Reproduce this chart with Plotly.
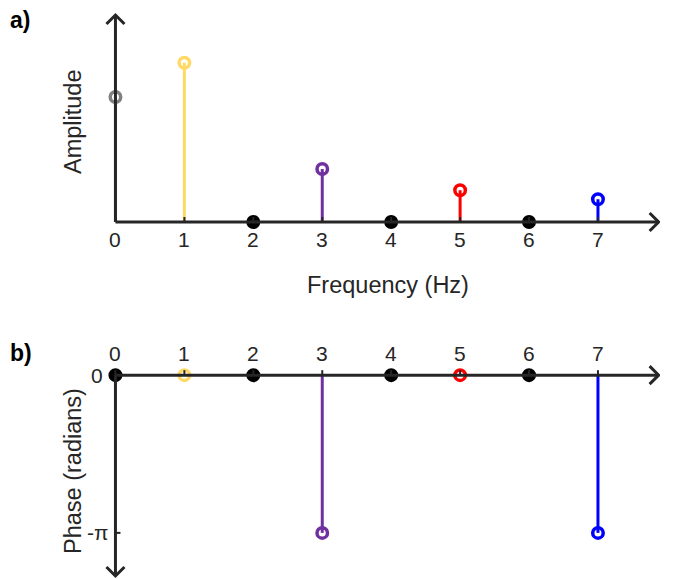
import numpy as np
import plotly.graph_objects as go

# ---------------- data ----------------
freqs = [0, 1, 2, 3, 4, 5, 6, 7]
amplitudes = [0.5, 0.637, 0.0, 0.212, 0.0, 0.127, 0.0, 0.091]
phases = [0.0, 0.0, 0.0, -np.pi, 0.0, 0.0, 0.0, -np.pi]
amp_colors = ["#808080", "#FFD966", "#000000", "#7030A0", "#000000", "#FF0000", "#000000", "#0000FF"]
phase_colors = ["#000000", "#FFD966", "#000000", "#7030A0", "#000000", "#FF0000", "#000000", "#0000FF"]
tick_labels = ["0", "1", "2", "3", "4", "5", "6", "7"]
phase_ticks = [0.0, -np.pi]
phase_tick_labels = ["0", "-π"]

# ---------------- layout geometry ----------------
W, H = 673, 579
PL, PR = 81, 660
xr = [-0.5, 7.9]
sx = (PR - PL) / (xr[1] - xr[0])

top_px = (10, 240)
bot_px = (340, 579)
yr1 = [-0.072, 0.848]
yr2 = [-4.06, 0.70]
sy1 = (top_px[1] - top_px[0]) / (yr1[1] - yr1[0])
sy2 = (bot_px[1] - bot_px[0]) / (yr2[1] - yr2[0])

AX = "#262626"
FONT = "Arial, Liberation Sans, Helvetica, sans-serif"
TXT = "#262626"

fig = go.Figure()


def add_panel(xa, ya, values, cols, sy, x_tip, y_tip):
    for f, v, c in zip(freqs, values, cols):
        fig.add_trace(go.Scatter(x=[f, f], y=[0, v], mode="lines",
                                 line=dict(color=c, width=3),
                                 xaxis=xa, yaxis=ya, showlegend=False, hoverinfo="skip"))
    symbols = ["circle" if c == "#000000" else "circle-open" for c in cols]
    fig.add_trace(go.Scatter(x=freqs, y=values, mode="markers",
                             marker=dict(symbol=symbols, size=10.5, color=cols,
                                         line=dict(width=3.5, color=cols)),
                             xaxis=xa, yaxis=ya, showlegend=False))
    fig.add_trace(go.Scatter(x=[0, x_tip], y=[0, 0], mode="lines",
                             line=dict(color=AX, width=3),
                             xaxis=xa, yaxis=ya, showlegend=False, hoverinfo="skip"))
    fig.add_trace(go.Scatter(x=[0, 0], y=[0, y_tip], mode="lines",
                             line=dict(color=AX, width=3),
                             xaxis=xa, yaxis=ya, showlegend=False, hoverinfo="skip"))
    a = 9.0
    dxu, dyu = a / sx, a / sy
    fig.add_trace(go.Scatter(x=[x_tip - dxu, x_tip, x_tip - dxu], y=[dyu, 0, -dyu], mode="lines",
                             line=dict(color=AX, width=3),
                             xaxis=xa, yaxis=ya, showlegend=False, hoverinfo="skip"))
    sgn = 1 if y_tip > 0 else -1
    fig.add_trace(go.Scatter(x=[-dxu, 0, dxu], y=[y_tip - sgn * dyu, y_tip, y_tip - sgn * dyu], mode="lines",
                             line=dict(color=AX, width=3),
                             xaxis=xa, yaxis=ya, showlegend=False, hoverinfo="skip"))
    t = 5.0 / sy
    for f in freqs:
        fig.add_trace(go.Scatter(x=[f, f], y=[0, t], mode="lines",
                                 line=dict(color=AX, width=2),
                                 xaxis=xa, yaxis=ya, showlegend=False, hoverinfo="skip"))


add_panel("x", "y", amplitudes, amp_colors, sy1, 7.88, 0.828)
add_panel("x2", "y2", phases, phase_colors, sy2, 7.88, -4.0)

fig.add_trace(go.Scatter(x=[0, 5.0 / sx], y=[-np.pi, -np.pi], mode="lines",
                         line=dict(color=AX, width=2), xaxis="x2", yaxis="y2",
                         showlegend=False, hoverinfo="skip"))

TS = 21
ann = []
for f, lab in zip(freqs, tick_labels):
    ann.append(dict(x=f, y=0, xref="x", yref="y", text=lab, showarrow=False,
                    yanchor="top", yshift=-4, font=dict(size=TS, color=TXT, family=FONT)))
    ann.append(dict(x=f, y=0, xref="x2", yref="y2", text=lab, showarrow=False,
                    yanchor="bottom", yshift=8, font=dict(size=TS, color=TXT, family=FONT)))
for v, lab in zip(phase_ticks, phase_tick_labels):
    ann.append(dict(x=0, y=v, xref="x2", yref="y2", text=lab, showarrow=False,
                    xanchor="right", xshift=-10 if v == 0 else -5,
                    font=dict(size=TS, color=TXT, family=FONT)))

ann += [
    dict(x=388 / W, y=1 - 285 / H, xref="paper", yref="paper", text="Frequency (Hz)",
         xanchor="center", yanchor="middle",
         showarrow=False, font=dict(size=23.5, color=TXT, family=FONT)),
    dict(x=73 / W, y=1 - 122 / H, xref="paper", yref="paper", text="Amplitude", textangle=-90,
         xanchor="center", yanchor="middle",
         showarrow=False, font=dict(size=23.5, color=TXT, family=FONT)),
    dict(x=73 / W, y=1 - 471 / H, xref="paper", yref="paper", text="Phase (radians)", textangle=-90,
         xanchor="center", yanchor="middle",
         showarrow=False, font=dict(size=23.5, color=TXT, family=FONT)),
    dict(x=8 / W, y=1 - 20 / H, xref="paper", yref="paper", text="<b>a)</b>",
         xanchor="left", yanchor="middle",
         showarrow=False, font=dict(size=23, color="#000000", family=FONT)),
    dict(x=8 / W, y=1 - 353 / H, xref="paper", yref="paper", text="<b>b)</b>",
         xanchor="left", yanchor="middle",
         showarrow=False, font=dict(size=23, color="#000000", family=FONT)),
]

hidden = dict(showgrid=False, zeroline=False, showticklabels=False, showline=False, ticks="",
              fixedrange=True)
fig.update_layout(
    width=W, height=H,
    margin=dict(l=0, r=0, t=0, b=0),
    paper_bgcolor="white", plot_bgcolor="white",
    xaxis=dict(range=xr, domain=[PL / W, PR / W], anchor="y", **hidden),
    yaxis=dict(range=yr1, domain=[1 - top_px[1] / H, 1 - top_px[0] / H], anchor="x", **hidden),
    xaxis2=dict(range=xr, domain=[PL / W, PR / W], anchor="y2", **hidden),
    yaxis2=dict(range=yr2, domain=[1 - bot_px[1] / H, 1 - bot_px[0] / H], anchor="x2", **hidden),
    annotations=ann,
    showlegend=False,
)

fig.write_html("out.html", config={"displayModeBar": False},
               post_script="document.body.style.margin='0';")
